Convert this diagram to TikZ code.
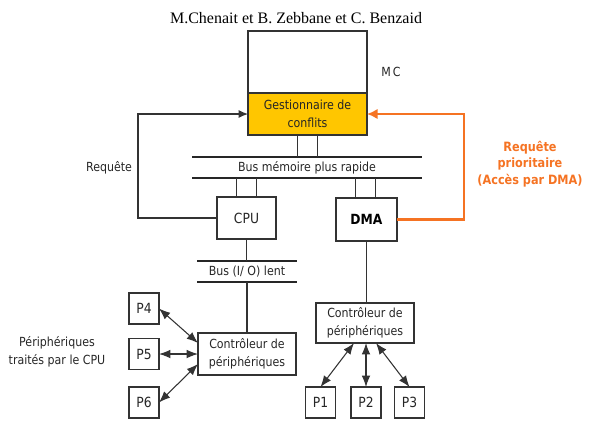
\documentclass[tikz,border=0pt]{standalone}
\usepackage{fontspec}
\setmainfont{Liberation Serif}
\newfontfamily\diagfont{DejaVu Sans}[FakeStretch=0.88]
\usepackage{xcolor}
\usepackage{tikz}
\usetikzlibrary{arrows.meta, positioning, calc}
\definecolor{gestyellow}{RGB}{255,198,0}
\definecolor{prioorange}{RGB}{245,115,35}

\begin{document}
\begin{tikzpicture}[
    x=0.75pt, y=-0.75pt,
    every node/.style={font=\diagfont\fontsize{9.4}{13.5}\selectfont, text=black!85, inner sep=0pt, outer sep=0pt},
    big/.style={font=\diagfont\fontsize{10.5}{13.5}\selectfont},
    box/.style={rectangle, draw=black!80, line width=0.8pt, align=center},
    membox/.style={box, minimum width=89.25pt, minimum height=46.5pt},
    gestbox/.style={box, fill=gestyellow, minimum width=89.25pt, minimum height=31.5pt},
    busbox/.style={rectangle, minimum height=15.75pt, align=center},
    ctrlbox/.style={box, minimum width=73.5pt, minimum height=31.5pt},
    pbox/.style={box, big, minimum width=22.5pt, minimum height=23.25pt},
    link/.style={draw=black!80, line width=0.8pt},
    busline/.style={draw=black!85, line width=1.3pt},
    dblarrow/.style={link, {Latex[length=8.5pt,width=6.5pt]}-{Latex[length=8.5pt,width=6.5pt]}},
    prio/.style={draw=prioorange, line width=2.2pt, -{Latex[length=8pt,width=8pt]}}
]
\useasboundingbox (0,0) rectangle (591,433);

\node[font=\fontsize{12}{14}\selectfont, text=black] (title) at (296,18) {M.Chenait et B. Zebbane et C. Benzaid};

% memoire centrale
\node[membox] (mem) at (307.5,62) {};
\node[gestbox, below=0pt of mem] (gest) {Gestionnaire de\\conflits};
\node (mclabel) at (391,72) {M\,C};

% bus memoire
\node[busbox, minimum width=172.5pt] (busmem) at (307,167.5) {Bus mémoire plus rapide};
\draw[busline] (busmem.north west) -- (busmem.north east);
\draw[busline] (busmem.south west) -- (busmem.south east);

\node[box, big, minimum width=44.25pt, minimum height=31.5pt] (cpu) at (246.5,218) {CPU};
\node[box, line width=2.2pt, minimum width=45.75pt, minimum height=32.25pt, text=black, font=\diagfont\bfseries\fontsize{10.5}{13.5}\selectfont] (dma) at (366.5,219.5) {DMA};

\coordinate (g1) at ($(gest.south)+(-10,0)$);
\coordinate (g2) at ($(gest.south)+(10,0)$);
\coordinate (c1) at ($(cpu.north)+(-10,0)$);
\coordinate (c2) at ($(cpu.north)+(10,0)$);
\coordinate (d1) at ($(dma.north)+(-11,0)$);
\coordinate (d2) at ($(dma.north)+(9,0)$);
\draw[link] (g1) -- (g1 |- busmem.north);
\draw[link] (g2) -- (g2 |- busmem.north);
\draw[link] (c1) -- (c1 |- busmem.south);
\draw[link] (c2) -- (c2 |- busmem.south);
\draw[link] (d1) -- (d1 |- busmem.south);
\draw[link] (d2) -- (d2 |- busmem.south);

% requete CPU
\coordinate (reqc) at (138,0);
\node (reqlabel) at (109,168) {Requête};
\draw[link, -{Latex[length=7pt,width=6pt]}] (cpu.west) -| (reqc |- gest.west) -- (gest.west);

% requete prioritaire DMA
\coordinate (prioc) at (464,0);
\draw[prio] (dma.east) -| (prioc |- gest.east) -- (gest.east);
\node[text=prioorange, align=center, font=\diagfont\bfseries\fontsize{9.6}{12.5}\selectfont] (priolabel) at (530,164) {Requête\\prioritaire\\(Accès par DMA)};

% bus I/O
\node[busbox, minimum width=75pt] (busio) at (247,271.5) {Bus (I/ O) lent};
\draw[busline] (busio.north west) -- (busio.north east);
\draw[busline] (busio.south west) -- (busio.south east);
\draw[link] (cpu.south) -- (cpu.south |- busio.north);

% peripheriques CPU
\node[ctrlbox] (ctrla) at (247,354) {Contrôleur de\\périphériques};
\draw[link] (busio.south -| ctrla.north) -- (ctrla.north);
\node[pbox] (p4) at (144,308.5) {P4};
\node[pbox] (p5) at (144,354) {P5};
\node[pbox] (p6) at (144,402.5) {P6};
\draw[dblarrow] (p4.east) -- ($(ctrla.west)+(0,-11)$);
\draw[dblarrow] (p5.east) -- (ctrla.west);
\draw[dblarrow] (p6.east) -- ($(ctrla.west)+(0,10)$);
\node[align=center] (cpulabel) at (57,352) {Périphériques\\traités par le CPU};

% peripheriques DMA
\node[ctrlbox, minimum height=30pt] (ctrlb) at (365,323) {Contrôleur de\\périphériques};
\draw[link] (dma.south) -- (dma.south |- ctrlb.north);
\node[pbox] (p1) at (320.5,402.5) {P1};
\node[pbox] (p2) at (366,402.5) {P2};
\node[pbox] (p3) at (409.5,402.5) {P3};
\draw[dblarrow] ($(ctrlb.south)+(-11,0)$) -- (p1.north);
\draw[dblarrow] (ctrlb.south -| p2.north) -- (p2.north);
\draw[dblarrow] ($(ctrlb.south)+(11,0)$) -- (p3.north);

\end{tikzpicture}
\end{document}
